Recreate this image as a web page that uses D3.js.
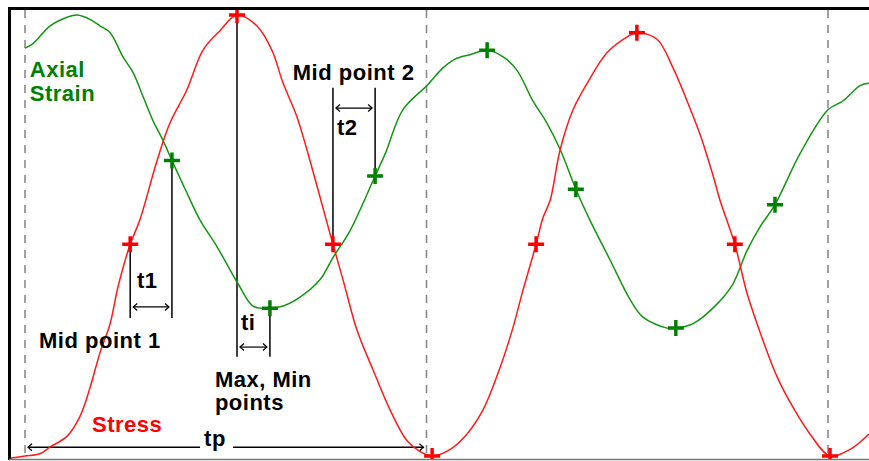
<!DOCTYPE html>
<html>
<head>
<meta charset="utf-8">
<script src="https://cdn.jsdelivr.net/npm/d3@7"></script>
<style>
  body { margin: 0; background: #fff; }
  text { font-family: "Liberation Sans", Arial, sans-serif; font-weight: bold; font-size: 22px; letter-spacing: 0.5px; }
</style>
</head>
<body>
<div id="chart"></div>
<script>
// time in ms (one loading period tp = 1000 ms), values normalised to -1..1
const stressTime = [-37, 0, 37, 62, 105, 137, 162, 187, 212, 232, 262, 286, 329, 361, 403, 443, 486, 528,
  578, 615, 643, 677, 702, 767, 792, 827, 867, 909, 951, 984, 1014, 1059, 1101, 1141, 1183, 1215, 1240,
  1273, 1290, 1308, 1333, 1365, 1400, 1450, 1499, 1524, 1574, 1614, 1649, 1681, 1714, 1731, 1768, 1798,
  1831, 1873, 1913, 1955, 2005, 2055, 2102];
const stressValue = [-1.01, -1.0, -0.99, -0.96, -0.91, -0.82, -0.69, -0.53, -0.4, -0.23, -0.04, 0.07, 0.34, 0.51, 0.66, 0.84, 0.93, 1.0,
  0.95, 0.84, 0.69, 0.54, 0.39, -0.04, -0.2, -0.43, -0.61, -0.79, -0.93, -0.98, -1.0, -0.97, -0.9, -0.79, -0.6, -0.42, -0.25,
  -0.04, 0.08, 0.16, 0.39, 0.57, 0.69, 0.83, 0.9, 0.92, 0.89, 0.76, 0.61, 0.46, 0.27, 0.16, -0.04, -0.26,
  -0.44, -0.64, -0.78, -0.9, -1.0, -0.97, -0.9];

const strainTime = [0, 20, 62, 105, 130, 162, 187, 212, 244, 269, 294, 319, 344, 366, 399, 436, 478, 531, 568, 610,
  643, 685, 735, 767, 809, 872, 897, 941, 1001, 1041, 1071, 1108, 1151, 1191, 1225, 1265, 1300, 1333, 1372,
  1407, 1457, 1507, 1539, 1599, 1621, 1664, 1724, 1763, 1798, 1831, 1868, 1930, 2000, 2037, 2080, 2102];
const strainValue = [0.85, 0.87, 0.95, 0.99, 1.0, 0.98, 0.95, 0.92, 0.81, 0.74, 0.63, 0.52, 0.43, 0.34, 0.21, 0.07, -0.05, -0.22, -0.32, -0.33,
  -0.32, -0.28, -0.2, -0.1, 0.02, 0.27, 0.37, 0.57, 0.68, 0.76, 0.8, 0.82, 0.84, 0.81, 0.75, 0.61, 0.51, 0.39, 0.21,
  0.07, -0.11, -0.29, -0.37, -0.42, -0.42, -0.4, -0.31, -0.22, -0.07, 0.04, 0.14, 0.37, 0.57, 0.61, 0.68, 0.69];

// picked points (mid points and max/min points)
const stressMarkTime = [262, 528, 767, 1014, 1273, 1524, 1768, 2005];
const stressMarkValue = [-0.04, 1.0, -0.04, -1.0, -0.04, 0.92, -0.04, -1.0];
const strainMarkTime = [366, 610, 872, 1151, 1372, 1621, 1868];
const strainMarkValue = [0.34, -0.33, 0.27, 0.84, 0.21, -0.42, 0.14];

const periodLines = [0, 1000, 2000];

const width = 869;
const height = 461;

const x = d3.scaleLinear().domain([0, 2000]).range([25, 828]);
const y = d3.scaleLinear().domain([-1, 1]).range([456, 15]);

const svg = d3.select("#chart").append("svg")
    .attr("width", width)
    .attr("height", height);

const defs = svg.append("defs");
defs.append("clipPath").attr("id", "plot")
  .append("rect").attr("x", 11).attr("y", 10).attr("width", width - 11).attr("height", 449);

["start", "end"].forEach(k => {
  defs.append("marker")
      .attr("id", "arrow-" + k)
      .attr("markerUnits", "userSpaceOnUse")
      .attr("markerWidth", 10).attr("markerHeight", 10)
      .attr("viewBox", "-5 -5 10 10")
      .attr("orient", "auto-start-reverse")
    .append("path")
      .attr("d", "M-4,-3.5L0,0L-4,3.5")
      .attr("fill", "none")
      .attr("stroke", "#000")
      .attr("stroke-width", 1.2);
});

// frame
svg.append("line").attr("x1", 9.5).attr("x2", width).attr("y1", 8.5).attr("y2", 8.5)
  .attr("stroke", "#000").attr("stroke-width", 3);
svg.append("line").attr("x1", 9.5).attr("x2", 9.5).attr("y1", 7).attr("y2", 460)
  .attr("stroke", "#000").attr("stroke-width", 3);
svg.append("line").attr("x1", 9).attr("x2", width).attr("y1", 459.5).attr("y2", 459.5)
  .attr("stroke", "#777").attr("stroke-width", 1.5);

const plot = svg.append("g").attr("clip-path", "url(#plot)");

plot.selectAll("line.period")
  .data(periodLines)
  .join("line")
    .attr("class", "period")
    .attr("x1", d => x(d)).attr("x2", d => x(d))
    .attr("y1", 10).attr("y2", 459)
    .attr("stroke", "#8a8a8a")
    .attr("stroke-width", 1.6)
    .attr("stroke-dasharray", "8,7");

// annotation verticals [time, top value, bottom value]
const vlines = [
  [262, -0.04, -0.374], [366, 0.34, -0.374],
  [528, 1.0, -0.55], [610, -0.33, -0.55],
  [767, 0.67, -0.04], [872, 0.67, 0.27]
];
plot.selectAll("line.ann")
  .data(vlines)
  .join("line")
    .attr("class", "ann")
    .attr("x1", d => x(d[0])).attr("x2", d => x(d[0]))
    .attr("y1", d => y(d[1])).attr("y2", d => y(d[2]))
    .attr("stroke", "#000")
    .attr("stroke-width", 1.5);

// double arrows [t from, t to, value]
const arrows = [[262, 366, -0.324], [528, 610, -0.506], [767, 872, 0.578]];
plot.selectAll("line.arr")
  .data(arrows)
  .join("line")
    .attr("class", "arr")
    .attr("x1", d => x(d[0]) + 3).attr("x2", d => x(d[1]) - 3)
    .attr("y1", d => y(d[2])).attr("y2", d => y(d[2]))
    .attr("stroke", "#000")
    .attr("stroke-width", 1.2)
    .attr("marker-start", "url(#arrow-start)")
    .attr("marker-end", "url(#arrow-end)");

// tp arrow, split around its label
const tpY = y(-0.96);
plot.append("line")
  .attr("x1", x(0) + 3).attr("x2", 200).attr("y1", tpY).attr("y2", tpY)
  .attr("stroke", "#000").attr("stroke-width", 1.5)
  .attr("marker-start", "url(#arrow-start)");
plot.append("line")
  .attr("x1", 233).attr("x2", x(1000) - 3).attr("y1", tpY).attr("y2", tpY)
  .attr("stroke", "#000").attr("stroke-width", 1.5)
  .attr("marker-end", "url(#arrow-end)");

const line = d3.line()
  .x(d => x(d[0]))
  .y(d => y(d[1]))
  .curve(d3.curveCatmullRom);

plot.append("path")
  .datum(d3.zip(strainTime, strainValue))
  .attr("d", line)
  .attr("fill", "none")
  .attr("stroke", "#129612")
  .attr("stroke-width", 1.5);

plot.append("path")
  .datum(d3.zip(stressTime, stressValue))
  .attr("d", line)
  .attr("fill", "none")
  .attr("stroke", "#ff1a1a")
  .attr("stroke-width", 1.5);

function crosses(data, color) {
  const g = plot.append("g");
  g.selectAll("path")
    .data(data)
    .join("path")
      .attr("d", d => `M${x(d[0]) - 8},${y(d[1])}H${x(d[0]) + 8}M${x(d[0])},${y(d[1]) - 8}V${y(d[1]) + 8}`)
      .attr("stroke", color)
      .attr("stroke-width", 3.5)
      .attr("fill", "none");
}
crosses(d3.zip(strainMarkTime, strainMarkValue), "#008000");
crosses(d3.zip(stressMarkTime, stressMarkValue), "#ff0000");

// labels
const labels = [
  { text: "Axial", t: 12, v: 0.72, color: "#008000" },
  { text: "Strain", t: 12, v: 0.61, color: "#008000" },
  { text: "Mid point 1", t: 35, v: -0.51, color: "#000" },
  { text: "Mid point 2", t: 667, v: 0.705, color: "#000" },
  { text: "t1", t: 279, v: -0.238, color: "#000" },
  { text: "ti", t: 538, v: -0.428, color: "#000" },
  { text: "t2", t: 777, v: 0.456, color: "#000" },
  { text: "Max, Min", t: 473, v: -0.687, color: "#000" },
  { text: "points", t: 473, v: -0.791, color: "#000" },
  { text: "Stress", t: 167, v: -0.891, color: "#ff0000" },
  { text: "tp", t: 446, v: -0.955, color: "#000" }
];
svg.selectAll("text.lbl")
  .data(labels)
  .join("text")
    .attr("class", "lbl")
    .attr("x", d => x(d.t))
    .attr("y", d => y(d.v))
    .attr("fill", d => d.color)
    .text(d => d.text);
</script>
</body>
</html>
